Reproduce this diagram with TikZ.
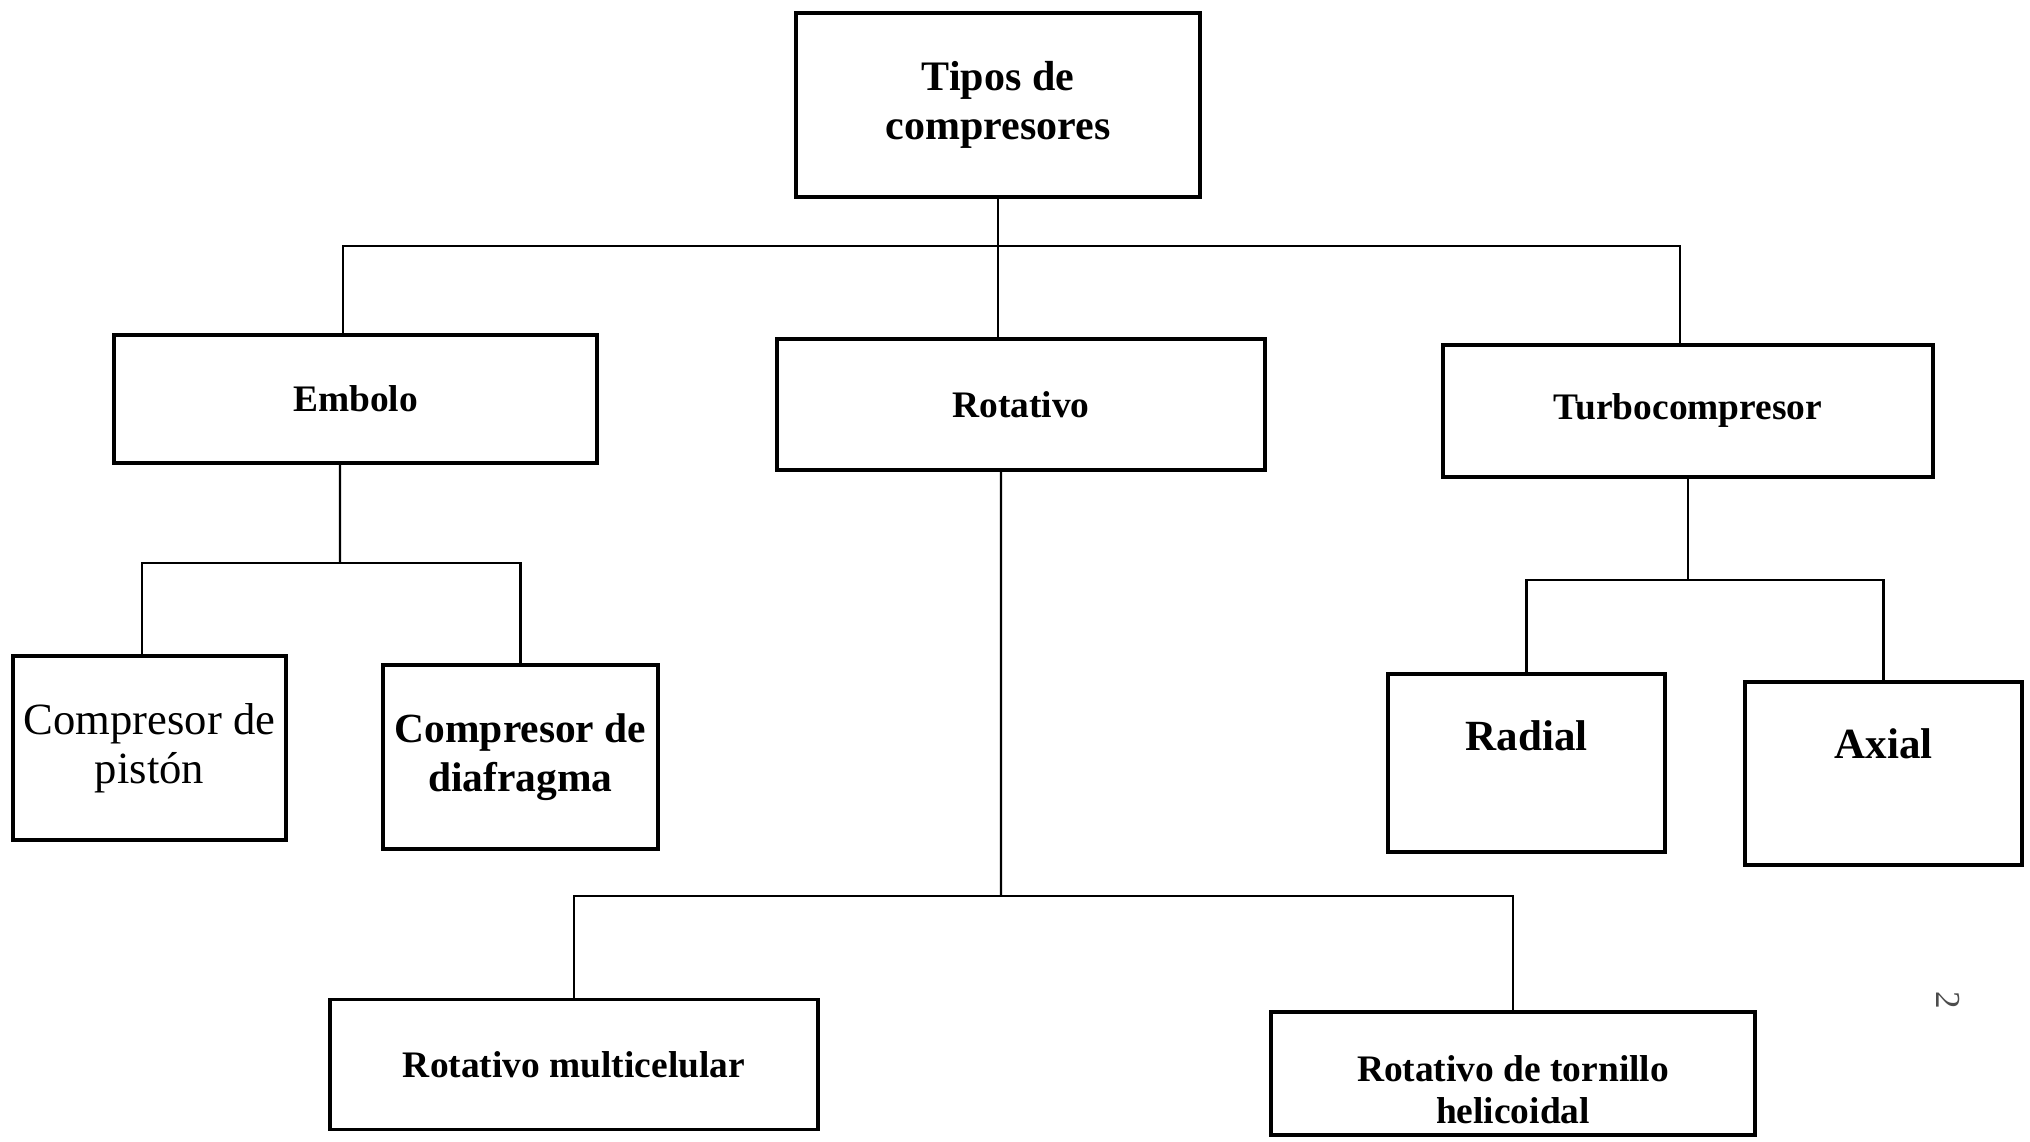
\documentclass[tikz,border=0pt]{standalone}
\usepackage{fontspec}
\setmainfont{Liberation Serif}
\usetikzlibrary{positioning}

\begin{document}
\begin{tikzpicture}[
		caja/.style={draw, rectangle, line width=2pt, align=center, inner sep=2pt, font=\bfseries\fontsize{21.3}{25}\selectfont},
		rama/.style={line width=1.4pt}]
		\useasboundingbox (0,0) rectangle (40.6,22.84);
		\node[caja, minimum width=80.8mm, minimum height=36.8mm, font=\bfseries\fontsize{23.9}{27.9}\selectfont] (tipos) at (19.96, 20.74) {Tipos de\\compresores};
		\node[caja, minimum width=96.6mm, minimum height=25.6mm] (embolo) at (7.11, 14.86) {Embolo};
		\node[caja, minimum width=97.6mm, minimum height=26.2mm] (rotativo) at (20.42, 14.75) {Rotativo};
		\node[caja, minimum width=98mm, minimum height=26.4mm] (turbo) at (33.76, 14.62) {Turbocompresor};
		\node[caja, minimum width=54.6mm, minimum height=36.8mm, font=\fontsize{25.4}{27.9}\selectfont] (piston) at (2.99, 7.88) {Compresor de\\pistón};
		\node[caja, minimum width=55mm, minimum height=36.8mm, font=\bfseries\fontsize{23.6}{27.9}\selectfont] (diafragma) at (10.41, 7.70) {Compresor de\\diafragma};
		\node[caja, minimum width=55.4mm, minimum height=35.6mm, text depth=11mm, font=\bfseries\fontsize{24.5}{28}\selectfont] (radial) at (30.53, 7.58) {Radial};
		\node[caja, minimum width=55.4mm, minimum height=36.6mm, text depth=12mm, font=\bfseries\fontsize{24.5}{28}\selectfont] (axial) at (37.67, 7.37) {Axial};
		\node[caja, minimum width=97.6mm, minimum height=26mm] (multi) at (11.48, 1.55) {Rotativo multicelular};
		\node[caja, minimum width=96.8mm, minimum height=24.6mm, text height=20mm, font=\bfseries\fontsize{21.3}{23.6}\selectfont] (helico) at (30.26, 1.37) {Rotativo de tornillo\\helicoidal};
		\node[rotate=-90, text=black!70, font=\fontsize{20}{24}\selectfont] (pagina) at (38.96, 2.84) {2};

		\coordinate (bus) at (19.98, 17.92);
		\coordinate (busE) at (6.80, 11.58);
		\coordinate (busT) at (33.76, 11.24);
		\coordinate (busR) at (20.02, 4.92);

		\draw[rama] (tipos.south) -- (tipos.south |- rotativo.north);
		\draw[rama] ([xshift=-2.5mm]embolo.north) |- (bus) -| ([xshift=-1.6mm]turbo.north);
		\draw[rama] ([xshift=-3.1mm]embolo.south) -- (busE);
		\draw[rama] ([xshift=-1.5mm]piston.north) |- (busE) -| (diafragma.north);
		\draw[rama] (turbo.south) -- (busT);
		\draw[rama] (radial.north) |- (busT) -| (axial.north);
		\draw[rama] ([xshift=-4mm]rotativo.south) -- (busR);
		\draw[rama] (multi.north) |- (busR) -| (helico.north);
	\end{tikzpicture}
\end{document}
